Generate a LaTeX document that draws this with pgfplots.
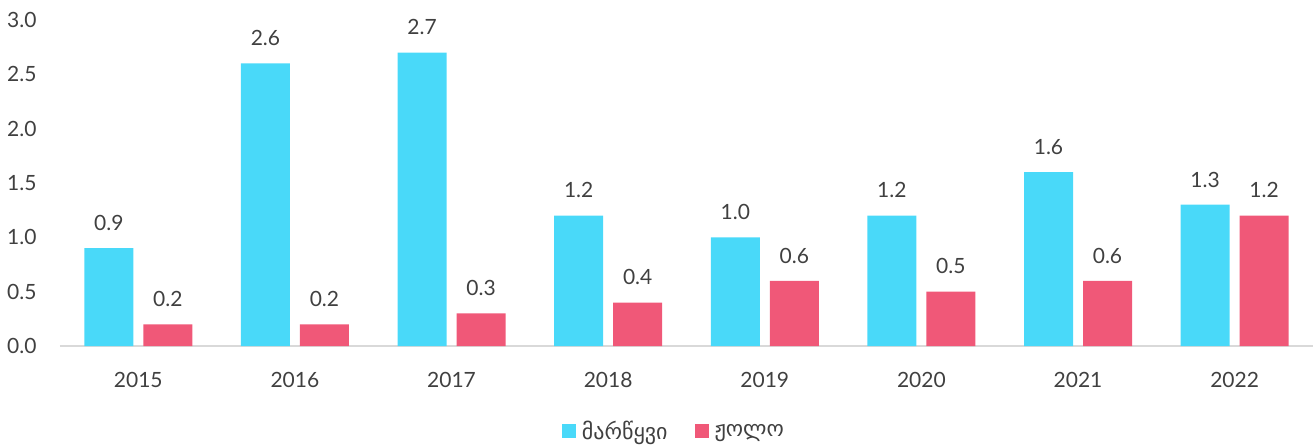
\documentclass[border=0pt]{standalone}
\usepackage{pgfplots}
\pgfplotsset{compat=1.18}
\usepackage{fontspec}
\setmainfont{Lato}
\newfontfamily\geo{DejaVu Sans}
\definecolor{cy}{HTML}{49D9F9}
\definecolor{rd}{HTML}{F05878}
\definecolor{tx}{HTML}{404040}
\begin{document}
\begin{tikzpicture}
\useasboundingbox (-60pt,-99pt) rectangle (1253pt,346pt);
\begin{axis}[
  scale only axis, width=1253pt, height=326pt,
  at={(0,0)}, anchor=south west,
  ybar=10pt, bar width=49pt,
  xmin=-0.5, xmax=7.5, ymin=0, ymax=3,
  xtick={0,...,7}, xticklabels={2015,2016,2017,2018,2019,2020,2021,2022},
  ytick={0,0.5,...,3.0},
  yticklabel style={/pgf/number format/fixed,/pgf/number format/fixed zerofill,/pgf/number format/precision=1},
  /pgf/number format/assume math mode=true,
  tick label style={font=\fontsize{21}{25}\selectfont, text=tx},
  xticklabel style={yshift=-23pt},
  yticklabel style={xshift=-20pt},
  major tick length=0pt,
  axis y line*=left,
  axis x line*=bottom,
  y axis line style={draw=none},
  x axis line style={draw=black!15, line width=1.5pt, -},
  separate axis lines,
  axis line style={-},
  nodes near coords,
  nodes near coords style={font=\fontsize{21}{25}\selectfont, text=tx, /pgf/number format/fixed,/pgf/number format/fixed zerofill,/pgf/number format/precision=1, /pgf/number format/assume math mode=true, yshift=14pt},
  legend style={at={(0.49,-0.26)}, anchor=center, draw=none, legend columns=2, font=\geo\fontsize{22}{26}\selectfont, text=tx, /tikz/every even column/.append style={column sep=25pt}},
  legend image code/.code={\fill[#1] (0pt,-7pt) rectangle (14pt,7pt);},
  legend cell align=left,
  clip=false,
]
\addplot[fill=cy, draw=none] coordinates {(0,0.9) (1,2.6) (2,2.7) (3,1.2) (4,1.0) (5,1.2) (6,1.6) (7,1.3)};
\addplot[fill=rd, draw=none] coordinates {(0,0.2) (1,0.2) (2,0.3) (3,0.4) (4,0.6) (5,0.5) (6,0.6) (7,1.2)};
\legend{\hspace{4pt}მარწყვი, \hspace{4pt}ჟოლო}
\end{axis}
\end{tikzpicture}
\end{document}
